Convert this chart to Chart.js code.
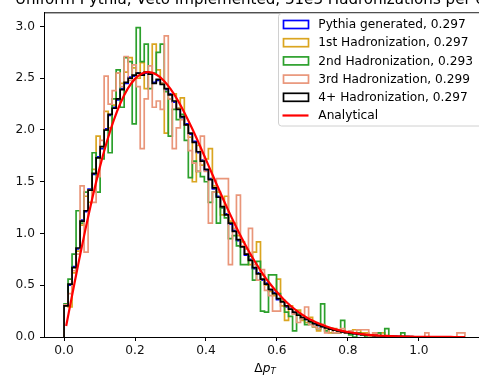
<!DOCTYPE html>
<html>
<head>
<meta charset="utf-8">
<script src="https://cdn.jsdelivr.net/npm/chart.js@4/dist/chart.umd.min.js"></script>
<style>
    html, body { margin: 0; padding: 0; background: #fff; }
    #wrap { position: relative; width: 479px; height: 375px; overflow: hidden; }
    #plot { position: absolute; left: 0; top: 0; }
</style>
</head>
<body>
<div id="wrap"><canvas id="plot" width="560" height="375"></canvas></div>
<script>
// histogram binning: 100 equal bins from 0 to 1.13
const binWidth = 0.0113;

// densities per bin, read bin by bin
const pythiaGenerated = [
    0.11, 0.31, 0.50, 0.68, 0.85, 1.13, 1.21, 1.43, 1.57, 1.74,
    1.82, 2.01, 2.14, 2.22, 2.29, 2.40, 2.45, 2.51, 2.52, 2.55,
    2.54, 2.55, 2.55, 2.46, 2.48, 2.45, 2.39, 2.35, 2.27, 2.21,
    2.12, 2.06, 1.96, 1.89, 1.78, 1.71, 1.61, 1.53, 1.43, 1.36,
    1.25, 1.19, 1.09, 1.03, 0.93, 0.88, 0.79, 0.75, 0.66, 0.62,
    0.55, 0.52, 0.45, 0.43, 0.36, 0.35, 0.29, 0.28, 0.23, 0.22,
    0.18, 0.17, 0.14, 0.13, 0.11, 0.10, 0.085, 0.078, 0.065, 0.059,
    0.049, 0.044, 0.036, 0.033, 0.026, 0.024, 0.019, 0.017, 0.013, 0.012,
    0.010, 0.008, 0.007, 0.005, 0.005, 0.004, 0.003, 0.002, 0.002, 0.002,
    0.001, 0.001, 0.001, 0, 0, 0, 0, 0, 0, 0
];
const hadron1st = [
    0.12, 0.30, 0.29, 0.62, 0.83, 1.08, 1.36, 1.30, 1.62, 1.94,
    1.84, 2.18, 2.02, 2.24, 2.55, 2.45, 2.56, 2.70, 2.60, 2.50,
    2.65, 2.40, 2.55, 2.83, 2.58, 2.45, 1.97, 2.30, 2.35, 2.21,
    2.31, 2.05, 1.93, 1.50, 1.85, 1.66, 1.72, 1.82, 1.46, 1.40,
    1.18, 1.36, 1.12, 1.10, 0.98, 0.92, 0.85, 0.70, 0.82, 0.92,
    0.60, 0.50, 0.44, 0.40, 0.56, 0.30, 0.16, 0.30, 0.22, 0.26,
    0.16, 0.14, 0.19, 0.10, 0.06, 0.12, 0.08, 0.04, 0.08, 0.04,
    0.06, 0.04, 0.04, 0.07, 0.07, 0.04, 0.04, 0, 0.04, 0.04,
    0.04, 0, 0, 0, 0, 0, 0, 0, 0, 0,
    0, 0, 0, 0, 0, 0, 0, 0, 0, 0
];
const hadron2nd = [
    0.08, 0.32, 0.56, 0.80, 1.22, 1.10, 1.40, 1.42, 1.78, 1.40,
    1.72, 2.00, 1.78, 2.30, 2.58, 2.22, 2.70, 2.66, 2.06, 2.99,
    2.66, 2.83, 2.40, 2.55, 2.75, 2.83, 2.37, 1.94, 2.20, 2.10,
    2.15, 1.90, 1.54, 1.70, 1.60, 1.55, 1.50, 1.30, 1.40, 1.10,
    1.25, 1.15, 0.95, 0.98, 0.88, 0.70, 0.70, 0.78, 0.55, 0.73,
    0.25, 0.24, 0.60, 0.60, 0.42, 0.35, 0.24, 0.20, 0.06, 0.22,
    0.18, 0.12, 0.14, 0.10, 0.08, 0.32, 0.06, 0.08, 0.04, 0.04,
    0.16, 0.04, 0.02, 0, 0.04, 0.02, 0, 0, 0, 0.04,
    0, 0.08, 0, 0, 0, 0.04, 0, 0, 0, 0,
    0, 0, 0, 0, 0, 0, 0, 0, 0, 0
];
const hadron3rd = [
    0.16, 0.31, 0.42, 0.64, 0.80, 1.46, 0.82, 1.42, 1.30, 1.55,
    1.90, 2.52, 2.25, 2.38, 2.55, 2.42, 2.71, 2.48, 2.63, 2.42,
    1.82, 2.30, 2.62, 2.22, 2.28, 2.20, 2.91, 2.30, 1.82, 2.02,
    2.10, 2.05, 1.80, 1.68, 1.60, 1.94, 1.60, 1.10, 1.40, 1.53,
    1.53, 1.53, 0.70, 1.05, 1.37, 0.88, 0.80, 1.05, 0.70, 0.55,
    0.65, 0.45, 0.40, 0.25, 0.25, 0.36, 0.30, 0.28, 0.22, 0.14,
    0.18, 0.29, 0.12, 0.10, 0.08, 0.12, 0.04, 0.08, 0.04, 0.04,
    0.08, 0.04, 0.06, 0.04, 0.07, 0.07, 0.07, 0, 0.04, 0,
    0, 0, 0, 0, 0, 0, 0, 0, 0, 0,
    0, 0.04, 0, 0, 0, 0, 0, 0, 0, 0.04
];
const hadron4plus = [
    0.11, 0.30, 0.51, 0.67, 0.86, 1.12, 1.22, 1.42, 1.58, 1.73,
    1.84, 2.00, 2.15, 2.21, 2.30, 2.39, 2.46, 2.50, 2.53, 2.55,
    2.53, 2.56, 2.54, 2.45, 2.49, 2.44, 2.40, 2.34, 2.28, 2.20,
    2.13, 2.05, 1.97, 1.88, 1.79, 1.70, 1.62, 1.52, 1.44, 1.35,
    1.26, 1.18, 1.10, 1.02, 0.94, 0.87, 0.80, 0.74, 0.67, 0.61,
    0.56, 0.51, 0.46, 0.42, 0.37, 0.34, 0.30, 0.27, 0.24, 0.21,
    0.19, 0.17, 0.15, 0.13, 0.115, 0.10, 0.088, 0.077, 0.067, 0.058,
    0.050, 0.043, 0.037, 0.032, 0.027, 0.023, 0.020, 0.017, 0.014, 0.012,
    0.010, 0.008, 0.007, 0.006, 0.005, 0.004, 0.003, 0.003, 0.002, 0.002,
    0.001, 0.001, 0.001, 0.001, 0, 0, 0, 0, 0, 0
];

// analytical curve, sampled along delta pT
const analyticX = [
    0.006, 0.02, 0.04, 0.06, 0.08, 0.10, 0.12, 0.14, 0.16, 0.18,
    0.20, 0.22, 0.24, 0.26, 0.28, 0.30, 0.32, 0.34, 0.36, 0.38,
    0.40, 0.42, 0.44, 0.46, 0.48, 0.50, 0.52, 0.54, 0.56, 0.58,
    0.60, 0.62, 0.64, 0.66, 0.68, 0.70, 0.72, 0.74, 0.76, 0.78,
    0.80, 0.82, 0.84, 0.86, 0.88, 0.90, 0.92, 0.94, 0.96, 0.98,
    1.00, 1.02, 1.04, 1.06, 1.08, 1.10, 1.12, 1.13
];
const analyticY = [
    0.107, 0.355, 0.702, 1.035, 1.345, 1.629, 1.879, 2.093, 2.268, 2.402,
    2.494, 2.546, 2.559, 2.536, 2.481, 2.397, 2.290, 2.163, 2.022, 1.871,
    1.714, 1.555, 1.398, 1.245, 1.099, 0.961, 0.834, 0.717, 0.611, 0.517,
    0.434, 0.360, 0.297, 0.243, 0.197, 0.159, 0.127, 0.101, 0.079, 0.062,
    0.048, 0.037, 0.028, 0.021, 0.016, 0.012, 0.009, 0.006, 0.005, 0.003,
    0.002, 0.002, 0.001, 0.001, 0.001, 0.000, 0.000, 0.000
];

const legendLabels = [
    'Pythia generated, 0.297',
    '1st Hadronization, 0.297',
    '2nd Hadronization, 0.293',
    '3rd Hadronization, 0.299',
    '4+ Hadronization, 0.297',
    'Analytical'
];
const xTicks = [0.0, 0.2, 0.4, 0.6, 0.8, 1.0];
const yTicks = [0.0, 0.5, 1.0, 1.5, 2.0, 2.5, 3.0];
const titleText = 'Uniform Pythia, Veto Implemented, 31e3 Hadronizations per event';

const colors = ['#0000ff', '#daa520', '#2ca02c', '#e9967a', '#000000', '#ff0000'];
const FONT = 'DejaVu Sans';

// outline of a step histogram: up from 0 at the first edge, across every bin, down at the last edge
function stepOutline(counts) {
    const n = counts.length;
    const pts = [{ x: 0, y: 0 }];
    counts.forEach((v, i) => pts.push({ x: i * binWidth, y: v }));
    pts.push({ x: n * binWidth, y: counts[n - 1] });
    pts.push({ x: n * binWidth, y: 0 });
    return pts;
}

function histDataset(label, counts, color, order) {
    return {
        label: label,
        data: stepOutline(counts),
        borderColor: color,
        borderWidth: 1.7,
        stepped: 'after',
        fill: false,
        pointRadius: 0,
        order: order
    };
}

// top/right spines and the framed legend in the upper right corner
const decorations = {
    id: 'decorations',
    afterDatasetsDraw(chart) {
        const { ctx, chartArea: a } = chart;
        ctx.save();
        ctx.strokeStyle = '#000';
        ctx.lineWidth = 1;
        ctx.beginPath();
        ctx.moveTo(a.left, a.top + 0.5);
        ctx.lineTo(a.right, a.top + 0.5);
        ctx.lineTo(a.right, a.bottom);
        ctx.stroke();
        ctx.restore();
    },
    afterDraw(chart) {
        const ctx = chart.ctx;
        ctx.save();

        // legend frame
        ctx.beginPath();
        ctx.roundRect(278.5, 13.5, 240, 112.5, 3);
        ctx.fillStyle = 'rgba(255,255,255,0.8)';
        ctx.fill();
        ctx.strokeStyle = '#d0d0d0';
        ctx.lineWidth = 1;
        ctx.stroke();

        ctx.font = '12.2px "' + FONT + '"';
        ctx.textBaseline = 'middle';
        ctx.textAlign = 'left';
        legendLabels.forEach((label, k) => {
            const y = 24.5 + 18.2 * k;
            ctx.strokeStyle = colors[k];
            if (k < 5) {
                ctx.lineWidth = 1.7;
                ctx.strokeRect(283.5, y - 4, 25, 8);
            } else {
                ctx.lineWidth = 2.2;
                ctx.beginPath();
                ctx.moveTo(282.5, y);
                ctx.lineTo(308.5, y);
                ctx.stroke();
            }
            ctx.fillStyle = '#000';
            ctx.fillText(label, 318.3, y + 0.5);
        });

        // x axis label: Delta p_T
        const base = 371.5;
        ctx.textBaseline = 'alphabetic';
        const regular = '12.2px "' + FONT + '"';
        const italic = 'italic 12.2px "' + FONT + '"';
        const sub = 'italic 8.6px "' + FONT + '"';
        ctx.font = regular; const wD = ctx.measureText('\u0394').width;
        ctx.font = italic; const wP = ctx.measureText('p').width;
        ctx.font = sub; const wT = ctx.measureText('T').width;
        const x0 = 265 - (wD + wP + wT) / 2;
        ctx.font = regular; ctx.fillText('\u0394', x0, base);
        ctx.font = italic; ctx.fillText('p', x0 + wD, base);
        ctx.font = sub; ctx.fillText('T', x0 + wD + wP, base + 2.6);

        // title, mostly above the visible area
        ctx.font = '15.1px "' + FONT + '"';
        ctx.fillText(titleText, 15, 3.5);
        ctx.restore();
    }
};

const tickFont = { family: FONT, size: 12.2 };

new Chart(document.getElementById('plot'), {
    type: 'line',
    data: {
        datasets: [
            {
                label: legendLabels[5],
                data: analyticX.map((x, i) => ({ x: x, y: analyticY[i] })),
                borderColor: colors[5],
                borderWidth: 2.2,
                pointRadius: 0,
                tension: 0.3,
                fill: false,
                order: 0
            },
            histDataset(legendLabels[4], hadron4plus, colors[4], 1),
            histDataset(legendLabels[3], hadron3rd, colors[3], 2),
            histDataset(legendLabels[2], hadron2nd, colors[2], 3),
            histDataset(legendLabels[1], hadron1st, colors[1], 4),
            histDataset(legendLabels[0], pythiaGenerated, colors[0], 5)
        ]
    },
    options: {
        responsive: false,
        animation: false,
        devicePixelRatio: 1,
        layout: { padding: { top: 9, right: 75, left: 0, bottom: 0 } },
        plugins: {
            legend: { display: false },
            tooltip: { enabled: false },
            title: { display: false }
        },
        scales: {
            x: {
                type: 'linear',
                min: -0.0565,
                max: 1.1865,
                afterBuildTicks: s => { s.ticks = xTicks.map(v => ({ value: v })); },
                afterFit: s => { s.height = 38; },
                ticks: { callback: v => v.toFixed(1), font: tickFont, color: '#111', padding: 3, maxRotation: 0 },
                grid: { drawOnChartArea: false, drawTicks: true, tickLength: 4, tickColor: '#000', color: '#000' },
                border: { display: true, color: '#000', width: 1 }
            },
            y: {
                type: 'linear',
                min: 0,
                max: 3.137,
                afterBuildTicks: s => { s.ticks = yTicks.map(v => ({ value: v })); },
                afterFit: s => { s.width = 44; },
                ticks: { callback: v => v.toFixed(1), font: tickFont, color: '#111', padding: 5 },
                grid: { drawOnChartArea: false, drawTicks: true, tickLength: 4, tickColor: '#000', color: '#000' },
                border: { display: true, color: '#000', width: 1 }
            }
        }
    },
    plugins: [decorations]
});
</script>
</body>
</html>
